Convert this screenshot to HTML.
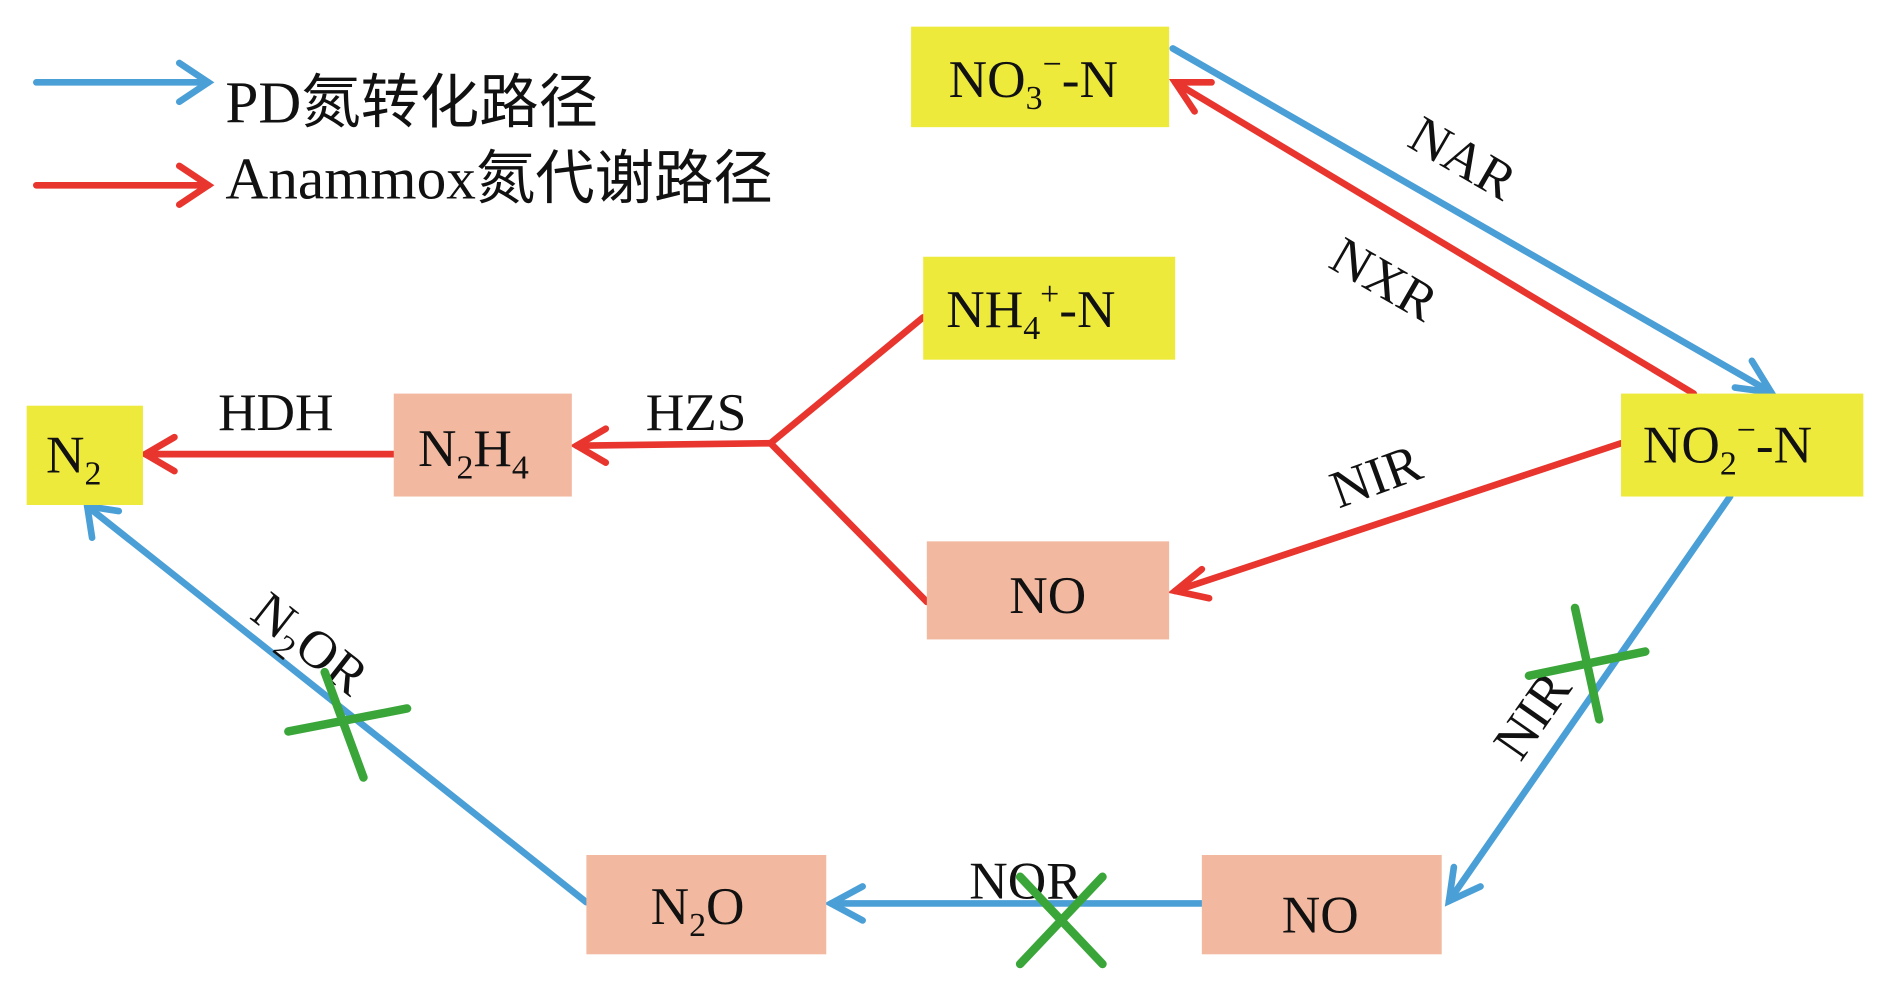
<!DOCTYPE html>
<html><head><meta charset="utf-8"><style>
html,body{margin:0;padding:0;background:#fff;width:1890px;height:987px;overflow:hidden}
svg{display:block}
text{font-family:"Liberation Serif","Noto Serif CJK SC",serif;fill:#111}
</style></head><body>
<svg width="1890" height="987" viewBox="0 0 1560 815" preserveAspectRatio="none">
<g stroke-width="5.5" fill="none" stroke-linecap="round">
<line x1="30" y1="68" x2="172" y2="68" stroke="#4a9fd6"/>
<path d="M148,52 L172,68 L148,84" stroke="#4a9fd6"/>
<line x1="30" y1="153" x2="172" y2="153" stroke="#e8352e"/>
<path d="M148,137 L172,153 L148,169" stroke="#e8352e"/>
<line x1="968" y1="40" x2="1462" y2="324" stroke="#4a9fd6"/>
<path d="M1432,320 L1462,324 L1446,298" stroke="#4a9fd6"/>
<line x1="1428" y1="410" x2="1196" y2="744" stroke="#4a9fd6"/>
<path d="M1200,716 L1196,744 L1222,732" stroke="#4a9fd6"/>
<line x1="992" y1="746" x2="686" y2="746" stroke="#4a9fd6"/>
<path d="M712,732 L686,746 L712,760" stroke="#4a9fd6"/>
<line x1="484" y1="745" x2="72" y2="418" stroke="#4a9fd6"/>
<path d="M76,444 L72,418 L98,422" stroke="#4a9fd6"/>
<line x1="1398" y1="325" x2="970" y2="68" stroke="#e8352e"/>
<path d="M986,92 L970,68 L1000,68" stroke="#e8352e"/>
<line x1="1338" y1="366" x2="970" y2="488" stroke="#e8352e"/>
<path d="M992,470 L970,488 L998,494" stroke="#e8352e"/>
<line x1="762" y1="262" x2="636" y2="366" stroke="#e8352e"/>
<line x1="765" y1="497" x2="636" y2="366" stroke="#e8352e"/>
<line x1="636" y1="366" x2="476" y2="368" stroke="#e8352e"/>
<path d="M500,354 L476,368 L500,382" stroke="#e8352e"/>
<line x1="325" y1="375" x2="120" y2="375" stroke="#e8352e"/>
<path d="M144,361 L120,375 L144,389" stroke="#e8352e"/>
</g>
<g>
<rect x="752" y="22" width="213" height="83" fill="#eeea3c"/>
<rect x="762" y="212" width="208" height="85" fill="#eeea3c"/>
<rect x="22" y="335" width="96" height="82" fill="#eeea3c"/>
<rect x="1338" y="325" width="200" height="85" fill="#eeea3c"/>
<rect x="325" y="325" width="147" height="85" fill="#f2b9a0"/>
<rect x="765" y="447" width="200" height="81" fill="#f2b9a0"/>
<rect x="484" y="706" width="198" height="82" fill="#f2b9a0"/>
<rect x="992" y="706" width="198" height="82" fill="#f2b9a0"/>
</g>
<g font-size="44">
<text x="783" y="80">NO<tspan font-size="28" dy="10">3</tspan><tspan font-size="28" dy="-28">−</tspan><tspan dy="18">-N</tspan></text>
<text x="781" y="270">NH<tspan font-size="28" dy="10">4</tspan><tspan font-size="28" dy="-28">+</tspan><tspan dy="18">-N</tspan></text>
<text x="38" y="390">N<tspan font-size="28" dy="10">2</tspan></text>
<text x="1356" y="382">NO<tspan font-size="28" dy="10">2</tspan><tspan font-size="28" dy="-28">−</tspan><tspan dy="18">-N</tspan></text>
<text x="345" y="385">N<tspan font-size="28" dy="10">2</tspan><tspan dy="-10">H</tspan><tspan font-size="28" dy="10">4</tspan></text>
<text x="833" y="506">NO</text>
<text x="537" y="763">N<tspan font-size="28" dy="10">2</tspan><tspan dy="-10">O</tspan></text>
<text x="1058" y="770">NO</text>
<text x="180" y="355">HDH</text>
<text x="533" y="355">HZS</text>
<text x="800" y="742">NOR</text>
<text transform="translate(1160,120) rotate(30)">NAR</text>
<text transform="translate(1095,220) rotate(30)">NXR</text>
<text transform="translate(1105,420) rotate(-20)">NIR</text>
<text transform="translate(1255,630) rotate(-55)">NIR</text>
<text transform="translate(205,510) rotate(38)">N<tspan font-size="28" dy="10">2</tspan><tspan dy="-10">OR</tspan></text>
</g>
<g font-size="49">
<text x="186" y="101" style="font-family:'Liberation Serif','Noto Sans CJK SC',sans-serif">PD氮转化路径</text>
<text x="186" y="164" style="font-family:'Liberation Serif','Noto Sans CJK SC',sans-serif">Anammox氮代谢路径</text>
</g>
<g stroke="#3aa63a" stroke-width="7" stroke-linecap="round">
<line x1="1300" y1="502" x2="1320" y2="594"/><line x1="1262" y1="558" x2="1358" y2="538"/>
<line x1="238" y1="604" x2="336" y2="585"/><line x1="268" y1="555" x2="300" y2="642"/>
<line x1="842" y1="724" x2="910" y2="796"/><line x1="910" y1="724" x2="842" y2="796"/>
</g>
</svg>
</body></html>
